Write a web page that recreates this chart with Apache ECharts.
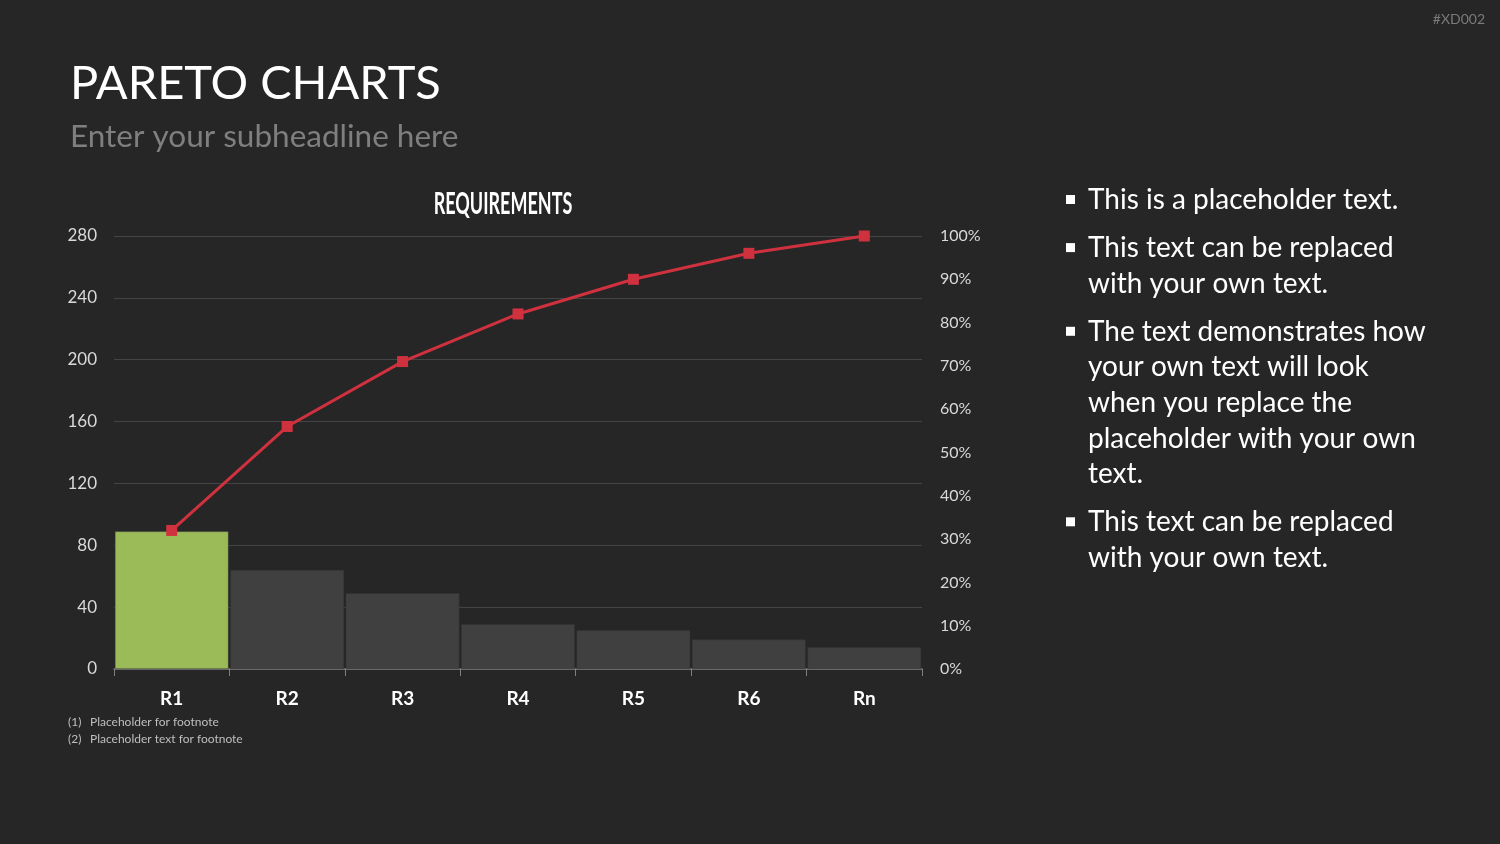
<!DOCTYPE html>
<html>
<head>
  <meta charset="utf-8">
  <title>Pareto Charts</title>
</head>
<body style="margin: 0; background: #262626">
  <div id="chart_div" style="width: 1500px; height: 844px;"></div>
  <script src="https://cdn.jsdelivr.net/npm/echarts@6/dist/echarts.min.js"></script>
  <script>
    var categories = ['R1', 'R2', 'R3', 'R4', 'R5', 'R6', 'Rn'];
    var counts = [89, 64, 49, 29, 25, 19, 14];
    var cumulative = [32, 56, 71, 82, 90, 96, 100];
    var bullets = [
      ['This is a placeholder text.'],
      ['This text can be replaced', 'with your own text.'],
      ['The text demonstrates how', 'your own text will look', 'when you replace the', 'placeholder with your own', 'text.'],
      ['This text can be replaced', 'with your own text.']
    ];
    var footnotes = ['Placeholder for footnote', 'Placeholder text for footnote'];

    var font = "Lato, 'Open Sans', sans-serif";
    var myChart = echarts.init(document.getElementById('chart_div'), null, { renderer: 'canvas' });

    // side texts, footnotes, headline
    var graphics = [
      { type: 'text', left: 70, top: 60, style: { text: 'PARETO CHARTS', fill: '#ffffff', font: '47px ' + font } },
      { type: 'text', left: 70, top: 121, style: { text: 'Enter your subheadline here', fill: '#7f7f7f', font: '31.5px ' + font } },
      { type: 'text', right: 15, top: 12, style: { text: '#XD002', fill: '#7a7a7a', font: '14px ' + font } },
      // condensed chart heading
      { type: 'text', x: 503, y: 204, scaleX: 0.6, style: { text: 'REQUIREMENTS', fill: '#ffffff', font: 'bold 30px ' + font, textAlign: 'center', textVerticalAlign: 'middle' } }
    ];
    var y = 200;
    bullets.forEach(function (lines) {
      graphics.push({ type: 'rect', shape: { x: 1066, y: y - 5, width: 9, height: 9 }, style: { fill: '#ffffff' } });
      lines.forEach(function (line) {
        graphics.push({ type: 'text', x: 1088, y: y, style: { text: line, fill: '#ffffff', font: '28px ' + font, textVerticalAlign: 'middle' } });
        y += 35.6;
      });
      y += 12.5;
    });
    footnotes.forEach(function (f, i) {
      graphics.push({ type: 'text', x: 68, y: 722 + i * 17, style: { text: '(' + (i + 1) + ')', fill: '#bfbfbf', font: '12px ' + font, textVerticalAlign: 'middle' } });
      graphics.push({ type: 'text', x: 90, y: 722 + i * 17, style: { text: f, fill: '#bfbfbf', font: '12px ' + font, textVerticalAlign: 'middle' } });
    });

    var option = {
      backgroundColor: '#262626',
      animation: false,
      graphic: graphics,
      grid: { left: 114, right: 578, top: 236, bottom: 175 },
      xAxis: {
        type: 'category',
        data: categories,
        axisLine: { lineStyle: { color: '#808080', width: 1.5 } },
        axisTick: { show: true, length: 7, lineStyle: { color: '#808080' } },
        axisLabel: { color: '#ffffff', fontSize: 19, fontWeight: 'bold', margin: 20, fontFamily: font }
      },
      yAxis: [
        {
          type: 'value', min: 0, max: 280, interval: 40,
          axisLine: { show: false }, axisTick: { show: false },
          axisLabel: { color: '#d9d9d9', fontSize: 17, margin: 17, fontFamily: font },
          splitLine: { lineStyle: { color: '#444444', width: 1 } }
        },
        {
          type: 'value', min: 0, max: 100, interval: 10,
          axisLine: { show: false }, axisTick: { show: false },
          axisLabel: { color: '#d9d9d9', fontSize: 16, margin: 18, formatter: '{value}%', fontFamily: font },
          splitLine: { show: false }
        }
      ],
      series: [
        {
          type: 'bar',
          data: counts.map(function (v, i) {
            return { value: v, itemStyle: { color: i === 0 ? '#9bbb59' : '#404040' } };
          }),
          barWidth: '98.5%',
          itemStyle: { borderColor: '#333333', borderWidth: 0.5 },
          z: 2
        },
        {
          type: 'line',
          yAxisIndex: 1,
          data: cumulative,
          symbol: 'rect',
          symbolSize: 11,
          lineStyle: { color: '#d0313f', width: 3 },
          itemStyle: { color: '#d0313f' },
          z: 3
        }
      ]
    };
    myChart.setOption(option);
  </script>
</body>
</html>
